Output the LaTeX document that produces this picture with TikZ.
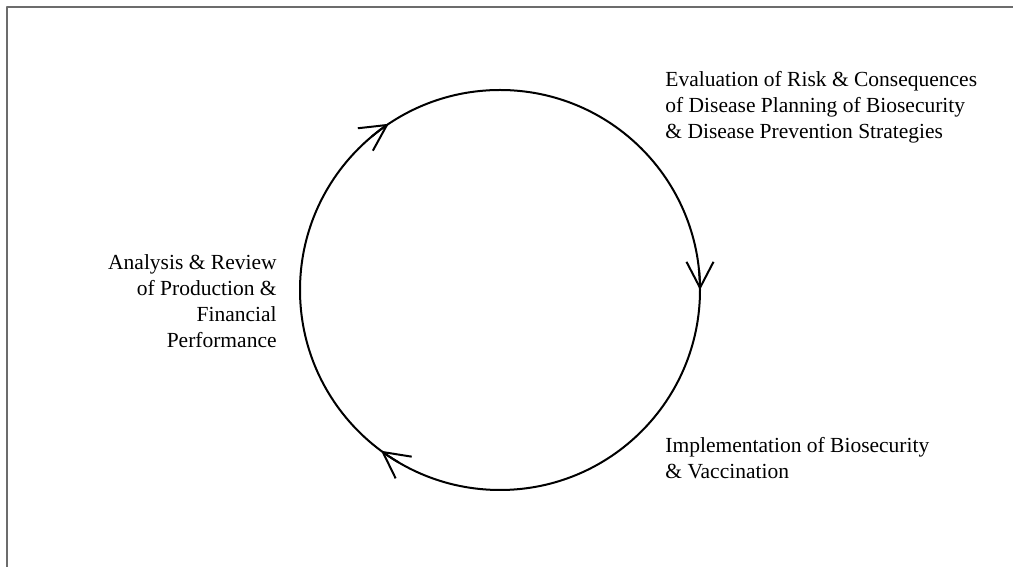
\documentclass[tikz,border=0pt]{standalone}
\usepackage{fontspec}
\setmainfont{Liberation Serif}
\usetikzlibrary{arrows.meta}
\begin{document}
\begin{tikzpicture}[x=0.5pt, y=0.5pt, font=\fontsize{10.75}{13}\selectfont, line join=round, line cap=round,
	>={Straight Barb[length=13pt, width=13.5pt]},
	declare function={r=100;}]
	\useasboundingbox (0,0) rectangle (1013,567);
	\path 
	(500,277) coordinate (O)
	(7,0) coordinate (K)
	(7,560) coordinate (L)
	(1013,560) coordinate (M)
	;
	\draw[gray!85!black, line width=1pt] (K)--(L)--(M);
	\draw[line width=1pt] (O) circle (r*1pt);
	\foreach \goc in {6,129.8,239.5}{
	\draw[line width=1pt, ->] (O) ++(\goc:r*1pt) arc[start angle=\goc, end angle=\goc-6, radius=r*1pt];
}
	\node[align=left, anchor=west, inner sep=0] (eval) at (665,460) {Evaluation of Risk \& Consequences\\of Disease Planning of Biosecurity\\\& Disease Prevention Strategies};
	\node[align=left, anchor=west, inner sep=0] (impl) at (665,109) {Implementation of Biosecurity\\\& Vaccination};
	\node[align=right, anchor=east, inner sep=0] (review) at (277,266) {Analysis \& Review\\of Production \&\\Financial\\Performance};
	\end{tikzpicture}
\end{document}
